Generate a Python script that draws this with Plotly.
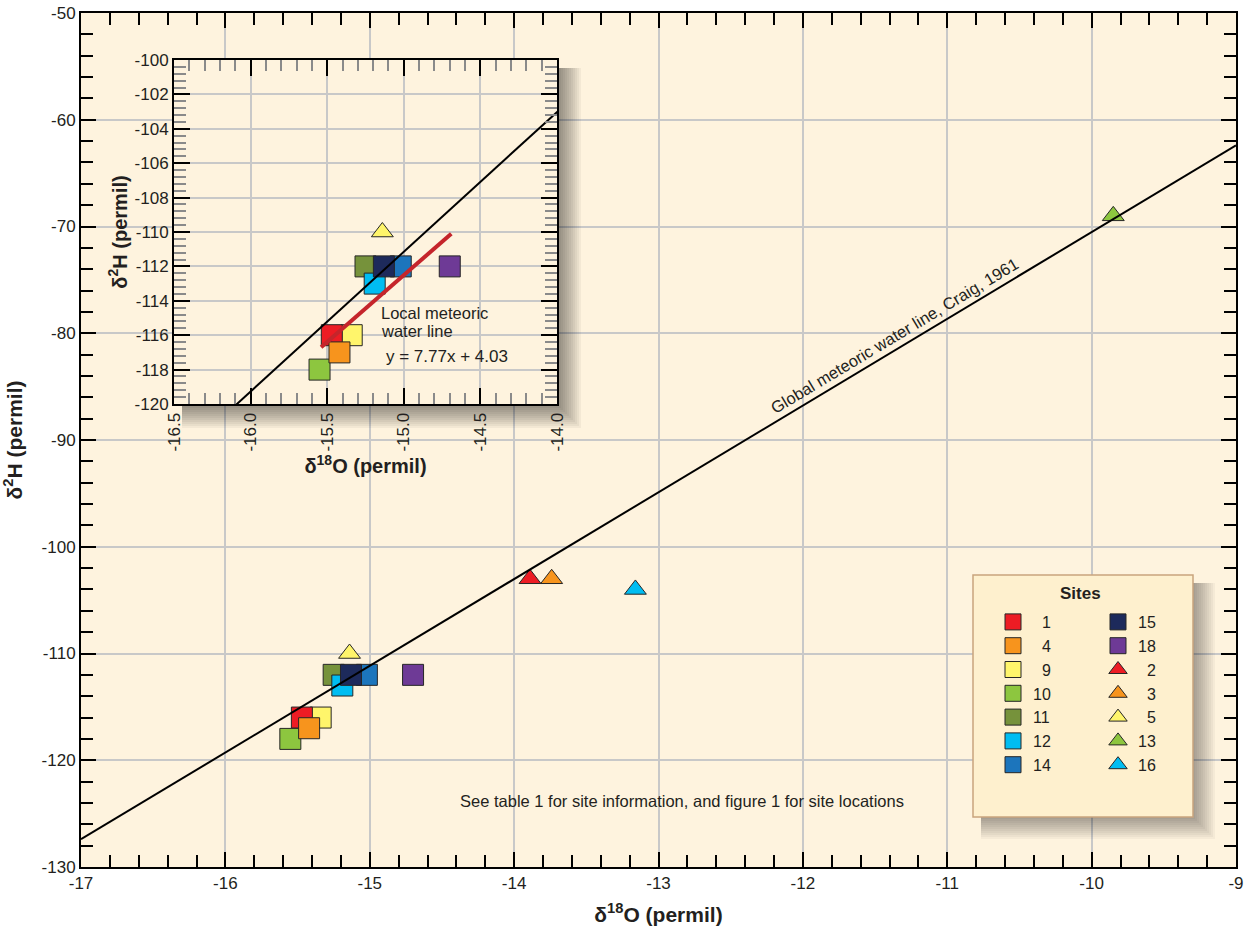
import plotly.graph_objects as go

# ---------------- data ----------------
site_names = ["1", "4", "9", "10", "11", "12", "14", "15", "18", "2", "3", "5", "13", "16"]
site_d18o = [-15.47, -15.42, -15.34, -15.55, -15.25, -15.19, -15.02, -15.13, -14.70,
             -13.89, -13.74, -15.14, -9.85, -13.16]
site_d2h = [-116, -117, -116, -118, -112, -113, -112, -112, -112,
            -103, -103, -110, -69, -104]
site_symbols = ["square"] * 9 + ["triangle-up"] * 5
site_colors = ["#ED1C24", "#F7941D", "#FFF56B", "#8DC63F", "#76923B", "#00BDF2", "#1C75BC",
               "#1D2A5B", "#6E3A96", "#ED1C24", "#F7941D", "#FFF56B", "#8DC63F", "#00BDF2"]
draw_order = ["5", "9", "1", "10", "4", "11", "12", "14", "15", "18", "2", "3", "13", "16"]

gmwl_x = [-17.0, -9.0]          # Global meteoric water line (Craig, 1961), as drawn
gmwl_y = [-127.4, -62.4]
lmwl_x = [-15.54, -14.69]       # Local meteoric water line y = 7.77x + 4.03
lmwl_y = [-116.7, -110.1]

x_tick_vals = [-17, -16, -15, -14, -13, -12, -11, -10, -9]
x_tick_text = ["-17", "-16", "-15", "-14", "-13", "-12", "-11", "-10", "-9"]
y_tick_vals = [-130, -120, -110, -100, -90, -80, -70, -60, -50]
y_tick_text = ["-130", "-120", "-110", "-100", "-90", "-80", "-70", "-60", "-50"]
ix_tick_vals = [-16.5, -16.0, -15.5, -15.0, -14.5, -14.0]
ix_tick_text = ["-16.5", "-16.0", "-15.5", "-15.0", "-14.5", "-14.0"]
iy_tick_vals = [-120, -118, -116, -114, -112, -110, -108, -106, -104, -102, -100]
iy_tick_text = ["-120", "-118", "-116", "-114", "-112", "-110", "-108", "-106", "-104", "-102", "-100"]

# ---------------- layout helpers ----------------
W, H = 1244, 926
ML, MR, MT, MB = 81, 8, 13, 59
PW, PH = W - ML - MR, H - MT - MB
XR, YR = [-17, -9], [-130, -50]


def fx(px):
    return (px - ML) / PW


def fy(py):
    return (H - MB - py) / PH


def dx(px):
    return XR[0] + (XR[1] - XR[0]) * fx(px)


def dy(py):
    return YR[0] + (YR[1] - YR[0]) * fy(py)


FONT = "Liberation Sans, Arial, sans-serif"
INK = "#231F20"
MAIN_BG = "#FEF3DE"
INSET_BG = "#FEE8B6"
BOX_BG = "#FEF0CE"
GRID = "#C8C8C8"

# inset box in pixels
IX0, IX1, IY0, IY1 = 174, 557, 60, 404
# legend box in pixels
LX0, LX1, LY0, LY1 = 973, 1193, 575, 817

fig = go.Figure()

idx = {n: i for i, n in enumerate(site_names)}

# main chart markers
for n in draw_order:
    i = idx[n]
    fig.add_trace(go.Scatter(
        x=[site_d18o[i]], y=[site_d2h[i]], mode="markers", name=("\u2007" + n if len(n) == 1 else n),
        marker=dict(symbol=site_symbols[i], size=21 if site_symbols[i] == "square" else 19,
                    color=site_colors[i], line=dict(color="#262626", width=1)),
        legend="legend" if i < 7 else "legend2", legendrank=i + 1,
        xaxis="x", yaxis="y", hoverinfo="skip"))

fig.add_trace(go.Scatter(x=gmwl_x, y=gmwl_y, mode="lines", line=dict(color="black", width=2),
                         showlegend=False, xaxis="x", yaxis="y", hoverinfo="skip"))

# inset markers
for n in draw_order:
    i = idx[n]
    fig.add_trace(go.Scatter(
        x=[site_d18o[i]], y=[site_d2h[i]], mode="markers", showlegend=False,
        marker=dict(symbol=site_symbols[i], size=21 if site_symbols[i] == "square" else 19,
                    color=site_colors[i], line=dict(color="#262626", width=1)),
        xaxis="x2", yaxis="y2", hoverinfo="skip"))

fig.add_trace(go.Scatter(x=gmwl_x, y=gmwl_y, mode="lines", line=dict(color="black", width=2),
                         showlegend=False, xaxis="x2", yaxis="y2", hoverinfo="skip"))
fig.add_trace(go.Scatter(x=lmwl_x, y=lmwl_y, mode="lines", line=dict(color="#C5252B", width=4),
                         showlegend=False, xaxis="x2", yaxis="y2", hoverinfo="skip"))

# ---------------- shapes (drawn between main grid and traces) ----------------
shapes = []
for k in range(1, 13):
    shapes.append(dict(type="rect", xref="x", yref="y", layer="between",
                       x0=dx(IX0 + 8), x1=dx(IX1 + 2 * k), y0=dy(IY1 + 2 * k), y1=dy(IY0 + 8),
                       fillcolor="black", opacity=0.045, line=dict(width=0)))
shapes.append(dict(type="rect", xref="x", yref="y", layer="between",
                   x0=dx(IX0), x1=dx(IX1), y0=dy(IY1), y1=dy(IY0),
                   fillcolor=INSET_BG, line=dict(width=0)))
for k in range(1, 12):
    shapes.append(dict(type="rect", xref="x", yref="y", layer="between",
                       x0=dx(LX0 + 8), x1=dx(LX1 + 2 * k), y0=dy(LY1 + 2 * k), y1=dy(LY0 + 8),
                       fillcolor="black", opacity=0.035, line=dict(width=0)))
shapes.append(dict(type="rect", xref="x", yref="y", layer="between",
                   x0=dx(LX0), x1=dx(LX1), y0=dy(LY1), y1=dy(LY0),
                   fillcolor=BOX_BG, line=dict(color="#C9A47E", width=1.5)))

# ---------------- annotations ----------------
annotations = [
    dict(text="<b>Sites</b>", x=fx(1080), y=fy(593), xref="paper", yref="paper",
         showarrow=False, font=dict(size=17, color=INK), xanchor="center", yanchor="middle"),
    dict(text="Global meteoric water line, Craig, 1961", x=dx(894), y=dy(336), xref="x", yref="y",
         showarrow=False, textangle=-31, font=dict(size=16.5, color=INK)),
    dict(text="See table 1 for site information, and figure 1 for site locations",
         x=fx(682), y=fy(812), xref="paper", yref="paper", showarrow=False,
         font=dict(size=16.5, color=INK)),
    dict(text="Local meteoric", x=fx(379), y=fy(313), xref="paper", yref="paper",
         showarrow=False, xanchor="left", yanchor="middle", font=dict(size=16.5, color=INK)),
    dict(text="water line", x=fx(379), y=fy(331), xref="paper", yref="paper",
         showarrow=False, xanchor="left", yanchor="middle", font=dict(size=16.5, color=INK)),
    dict(text="y = 7.77x + 4.03", x=fx(384), y=fy(356), xref="paper", yref="paper",
         showarrow=False, xanchor="left", yanchor="middle", font=dict(size=17, color=INK)),
]

axis_common = dict(showline=True, linecolor="black", mirror="ticks", ticks="inside",
                   tickcolor="black", zeroline=False, showgrid=True, gridcolor=GRID,
                   automargin=False,
                   tickfont=dict(size=17, color=INK, family=FONT))

fig.update_layout(
    width=W, height=H, margin=dict(l=ML, r=MR, t=MT, b=MB, autoexpand=False),
    paper_bgcolor="white", plot_bgcolor=MAIN_BG,
    font=dict(family=FONT, color=INK, size=16),
    shapes=shapes, annotations=annotations,
    xaxis=dict(axis_common, range=XR, domain=[0, 1], anchor="y", tickmode="array",
               tickvals=x_tick_vals, ticktext=x_tick_text, ticklen=15, tickwidth=2, linewidth=2,
               gridwidth=1.5,
               minor=dict(dtick=0.2, tick0=-17, ticks="inside", ticklen=12, tickwidth=2,
                          tickcolor="black", showgrid=False),
               title=dict(text="<b>δ<sup>18</sup>O (permil)</b>", font=dict(size=21, color=INK))),
    yaxis=dict(axis_common, range=YR, domain=[0, 1], anchor="x", tickmode="array",
               tickvals=y_tick_vals, ticktext=y_tick_text, ticklen=15, tickwidth=2, linewidth=2,
               gridwidth=1.5,
               minor=dict(dtick=2, tick0=-130, ticks="inside", ticklen=12, tickwidth=2,
                          tickcolor="black", showgrid=False),
               title=dict(text="<b>δ<sup>2</sup>H (permil)</b>", font=dict(size=21, color=INK))),
    xaxis2=dict(axis_common, range=[-16.5, -14.0], domain=[fx(IX0), fx(IX1)], anchor="y2",
                tickmode="array", tickvals=ix_tick_vals, ticktext=ix_tick_text, tickangle=-90,
                ticklen=16, tickwidth=2, linewidth=2, gridwidth=1.5,
                minor=dict(dtick=0.1, tick0=-16.5, ticks="inside", ticklen=11, tickwidth=2,
                           tickcolor="#8A8A8A", showgrid=False),
                title=dict(text="<b>δ<sup>18</sup>O (permil)</b>", font=dict(size=20, color=INK),
                           standoff=4)),
    yaxis2=dict(axis_common, range=[-120, -100], domain=[fy(IY1), fy(IY0)], anchor="x2",
                tickmode="array", tickvals=iy_tick_vals, ticktext=iy_tick_text,
                ticklen=16, tickwidth=2, linewidth=2, gridwidth=1.5,
                minor=dict(dtick=0.4, tick0=-120, ticks="inside", ticklen=12, tickwidth=2,
                           tickcolor="#8A8A8A", showgrid=False),
                title=dict(text="<b>δ<sup>2</sup>H (permil)</b>", font=dict(size=20, color=INK),
                           standoff=2)),
    legend=dict(x=fx(993), y=fy(605), xanchor="left", yanchor="top", bgcolor="rgba(0,0,0,0)",
                borderwidth=0, font=dict(size=16, color=INK, family=FONT), tracegroupgap=0),
    legend2=dict(x=fx(1098), y=fy(605), xanchor="left", yanchor="top", bgcolor="rgba(0,0,0,0)",
                 borderwidth=0, font=dict(size=16, color=INK, family=FONT), tracegroupgap=0),
)

fig.write_html("out.html")
